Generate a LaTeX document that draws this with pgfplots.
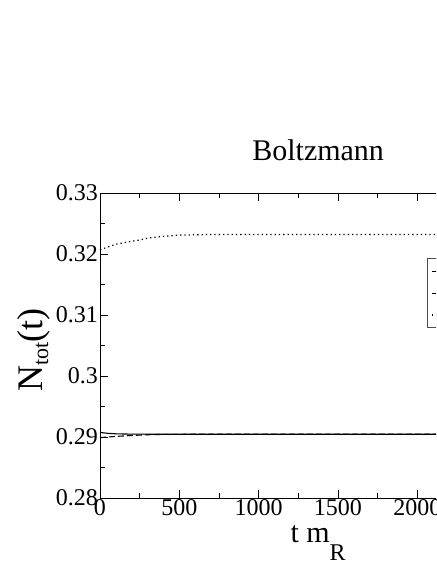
\documentclass[border=0pt]{standalone}
\usepackage{fontspec}
\setmainfont{Liberation Serif}
\usepackage{pgfplots}
\pgfplotsset{compat=1.18}
\begin{document}
\begin{tikzpicture}
\useasboundingbox (-100pt,-66pt) rectangle (336pt,498pt);
\clip (-100pt,-66pt) rectangle (336pt,498pt);
\begin{axis}[
  at={(0,0)}, anchor=south west,
  scale only axis, width=436.3pt, height=305pt,
  xmin=0, xmax=2750, ymin=0.28, ymax=0.33,
  axis line style={line width=0.9pt},
  xtick={0,500,1000,1500,2000,2500},
  xticklabels={0,500,1000,1500,2000,2500},
  ytick={0.28,0.29,0.30,0.31,0.32,0.33},
  yticklabels={0.28,0.29,0.3,0.31,0.32,0.33},
  minor x tick num=1, minor y tick num=1,
  tick align=inside, major tick length=8pt, minor tick length=5pt,
  tick style={black, line width=0.8pt},
  /pgf/number format/assume math mode=true,
  ticklabel style={font=\fontsize{24}{24}\selectfont},
  xticklabel style={inner sep=1pt},
  yticklabel style={inner sep=2pt},
  title={Boltzmann},
  title style={at={(axis description cs:0.5,1.0862)}, anchor=base, font=\fontsize{30}{30}\selectfont, inner sep=0pt},
  xlabel={t m\raisebox{-18pt}{\fontsize{24}{24}\selectfont R}},
  xlabel style={at={(axis description cs:0.5,-0.1443)}, anchor=base, font=\fontsize{30}{30}\selectfont, inner sep=0pt},
  ylabel={N\raisebox{-6pt}{\fontsize{22}{22}\selectfont tot}(t)},
  ylabel style={at={(axis description cs:-0.1329,0.4852)}, anchor=base, rotate=0, font=\fontsize{36}{36}\selectfont, inner sep=0pt},
  legend style={at={(axis description cs:0.7488,0.786)}, anchor=north west, draw=black!70, line width=0.7pt,
    font=\fontsize{18}{21}\selectfont, row sep=4.5pt, inner sep=4pt},
  legend cell align=left,
]
\addplot[black, line width=1.1pt] coordinates {
 (0,0.29075) (50,0.29060) (100,0.29052) (200,0.29047) (400,0.29045) (2750,0.29045)};
\addlegendentry{run A}
\addplot[black, line width=1.1pt, dash pattern=on 6pt off 3pt] coordinates {
 (0,0.2899) (100,0.2901) (200,0.29025) (300,0.29037) (400,0.29043) (600,0.29045) (2750,0.29045)};
\addlegendentry{run B}
\addplot[black, line width=1.2pt, dash pattern=on 1.3pt off 3pt] coordinates {
 (0,0.3207) (100,0.3216) (200,0.3221) (250,0.3223) (300,0.3226) (400,0.3229) (500,0.3231) (700,0.3232) (2750,0.3232)};
\addlegendentry{run C}
\end{axis}
\end{tikzpicture}
\end{document}
